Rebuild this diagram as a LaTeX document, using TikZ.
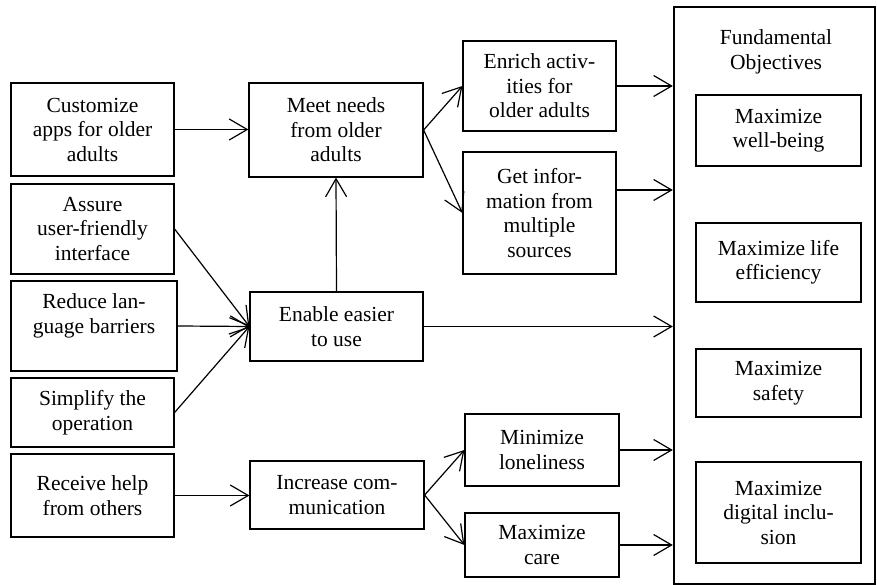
\documentclass[tikz,border=0pt]{standalone}
\usepackage{fontspec}
\setmainfont{Liberation Serif}
\usetikzlibrary{arrows.meta}

\begin{document}
\begin{tikzpicture}[x=1pt, y=1pt,
    box/.style={draw, line width=1.2pt, align=center, inner sep=0pt,
        font=\fontsize{21.5}{24.5}\selectfont},
    link/.style={line width=1.2pt, -{Straight Barb[length=18pt, width=21pt]}}]
\useasboundingbox (0,0) rectangle (877,585);
% Variables: 1 := centre, 2 := name, 3 := width, 4 := height, 5 := text.
\def\objbox(#1)#2#3#4#5{
    \node[box, minimum width=#3pt, minimum height=#4pt] (#2) at (#1) {#5};
}
\objbox(92.5,455.5){cust}{163}{93}{Customize\\apps for older\\adults}
\objbox(92.5,356){assure}{163}{90}{Assure\\user-friendly\\interface}
\objbox(94,259){reduce}{166}{90}{Reduce lan-\\guage barriers\\ \mbox{}}
\objbox(92.5,172.5){simplify}{163}{69}{Simplify the\\operation}
\objbox(92.5,89.5){receive}{163}{83}{Receive help\\from others}
\objbox(336,455){meet}{174}{94}{Meet needs\\from older\\adults}
\objbox(336.5,258.5){enable}{173}{69}{Enable easier\\to use}
\objbox(337,90){increase}{174}{68}{Increase com-\\munication}
\objbox(539.5,499){enrich}{153}{90}{Enrich activ-\\ities for\\older adults}
\objbox(539.5,372){getinfo}{153}{122}{Get infor-\\mation from\\multiple\\sources}
\objbox(542,135){lonely}{154}{72}{Minimize\\loneliness}
\objbox(542,40){care}{154}{64}{Maximize\\care}
\node[box, line width=2.4pt, minimum width=201pt, minimum height=577pt] (fobj) at (774.5,289.5) {};
\node[align=center, font=\fontsize{21.5}{24.5}\selectfont] (ftitle) at (776,533) {Fundamental\\Objectives};
\objbox(778.5,454.5){wellbeing}{165}{71}{Maximize\\well-being}
\objbox(778.5,322.5){lifeeff}{165}{79}{Maximize life\\efficiency}
\objbox(778.5,202){safety}{165}{68}{Maximize\\safety}
\objbox(778.5,72.5){digital}{165}{101}{Maximize\\digital inclu-\\sion}

\draw[link] (cust.east) -- (cust.east -| meet.west);
\draw[link] (assure.east) -- (enable.west);
\draw[link] (reduce.east) -- (enable.west);
\draw[link] (simplify.east) -- (enable.west);
\draw[link] (receive.east) -- (receive.east -| increase.west);
\draw[link] (enable.north) -- (meet.south);
\draw[link] (meet.east) -- (enrich.west);
\draw[link] (meet.east) -- (getinfo.west);
\draw[link] (increase.east) -- (lonely.west);
\draw[link] (increase.east) -- (care.west);
\draw[link] (enrich.east) -- (enrich.east -| fobj.west);
\draw[link] ([yshift=23pt]getinfo.east) coordinate (gi) -- (gi -| fobj.west);
\draw[link] (enable.east) -- (enable.east -| fobj.west);
\draw[link] (lonely.east) -- (lonely.east -| fobj.west);
\draw[link] (care.east) -- (care.east -| fobj.west);
\end{tikzpicture}
\end{document}
